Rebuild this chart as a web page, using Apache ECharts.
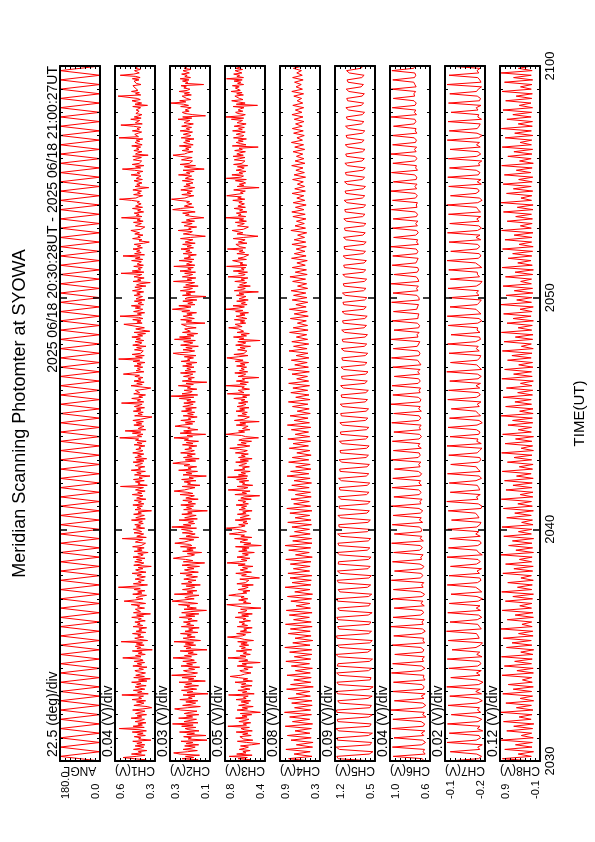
<!DOCTYPE html>
<html><head><meta charset="utf-8">
<script src="https://cdn.jsdelivr.net/npm/echarts@6/dist/echarts.min.js"></script>
<style>html,body{margin:0;padding:0;background:#fff}#c{width:595px;height:842px}</style>
</head><body><div id="c"></div>
<script>
// ---------- texts ----------
const TITLE = 'Meridian Scanning Photomter at SYOWA';
const SUBTITLE = '2025 06/18 20:30:28UT - 2025 06/18 21:00:27UT';
const TIME_TICK_LABELS = ['2030', '2040', '2050', '2100'];
const TIME_AXIS_NAME = 'TIME(UT)';
const CHANNEL_NAMES = ['ANGL', 'CH1(V)', 'CH2(V)', 'CH3(V)', 'CH4(V)', 'CH5(V)', 'CH6(V)', 'CH7(V)', 'CH8(V)'];
const DIV_LABELS = ['22.5 (deg)/div', '0.04 (V)/div', '0.03 (V)/div', '0.05 (V)/div', '0.08 (V)/div', '0.09 (V)/div', '0.04 (V)/div', '0.02 (V)/div', '0.12 (V)/div'];
// value axis ranges (deg for ANGL, V for channels), 8 divisions each
const AXIS_MIN = [0, 0.28, 0.10, 0.40, 0.29, 0.50, 0.64, -0.24, -0.06];
const AXIS_MAX = [180, 0.60, 0.34, 0.80, 0.93, 1.22, 0.96, -0.08, 0.90];
const AXIS_DIVS = 8;
// time: minutes after 20:30
const TIME_MIN = 0, TIME_MAX = 30, TIME_MAJOR = 10;
const ANGL_STEP_SEC = 12;
const CH_FAST_STEP_SEC = 3;   // CH1-CH3 samples
const CH_STEP_SEC = 6;        // CH4-CH8 samples

// ---------- data ----------
const ANGL_deg = [
0,180,0,180,0,180,0,180,0,180,0,180,0,180,0,180,0,180,0,180,
0,180,0,180,0,180,0,180,0,180,0,180,0,180,0,180,0,180,0,180,
0,180,0,180,0,180,0,180,0,180,0,180,0,180,0,180,0,180,0,180,
0,180,0,180,0,180,0,180,0,180,0,180,0,180,0,180,0,180,0,180,
0,180,0,180,0,180,0,180,0,180,0,180,0,180,0,180,0,180,0,180,
0,180,0,180,0,180,0,180,0,180,0,180,0,180,0,180,0,180,0,180,
0,180,0,180,0,180,0,180,0,180,0,180,0,180,0,180,0,180,0,180,
0,180,0,180,0,180,0,180,0,180,0];

const CH1_mV = [
402,351,447,535,431,359,468,389,414,346,452,397,370,439,362,425,384,458,312,411,
393,446,357,420,375,462,349,408,566,366,455,381,417,352,440,391,364,471,386,423,
348,436,401,360,459,377,306,343,449,396,368,428,355,463,388,410,372,545,334,419,
385,453,362,404,439,351,427,392,467,345,412,318,450,365,434,397,356,418,441,373,
409,344,457,387,422,363,446,375,401,538,392,436,358,414,383,461,302,425,395,438,
367,429,380,551,339,405,442,371,418,393,460,354,431,386,409,347,455,378,421,399,
441,358,413,390,466,372,427,316,452,396,381,437,364,420,403,470,355,415,527,444,
376,432,405,348,458,384,419,361,447,398,573,425,340,453,391,412,366,439,400,357,
424,389,463,352,408,435,377,416,310,450,394,369,442,385,428,360,456,397,374,418,
335,446,383,421,367,459,391,404,356,437,412,379,542,350,426,399,371,448,387,410,
453,363,429,396,442,374,410,381,468,358,434,402,365,451,389,416,308,440,393,423,
381,457,369,413,390,445,353,427,400,376,462,385,419,359,436,406,372,556,342,417,
399,437,366,452,382,408,320,444,391,426,357,470,395,414,362,438,404,380,455,368,
429,347,441,389,419,370,458,398,376,433,392,409,361,447,384,424,351,436,411,562,
387,420,376,461,394,519,355,415,401,368,449,386,430,373,457,397,412,304,443,382,
416,374,453,392,428,364,445,407,383,548,370,421,396,466,379,410,356,450,403,389,
437,361,314,399,472,382,426,367,448,393,414,376,441,404,533,459,369,432,398,421,
378,446,391,424,360,455,402,571,381,436,366,463,395,411,374,444,389,427,352,458,
405,385,440,370,431,397,465,379,419,356,447,322,388,434,365,416,408,529,383,425,
392,458,376,412,560,389,421,363,451,404,378,438,396,469,372,415,386,445,361,432,
418,380,447,398,426,371,460,409,387,441,353,428,401,318,456,392,419,367,448,410,
386,552,369,462,395,415,382,450,373,423,406,389,467,378,437,399,536,364,443,391,
427,402,456,381,420,394,446,371,326,408,385,459,398,417,376,442,404,388,473,395,
410,362,437,413,389,452,375,424,398,548,384,429,407,446,371,419,393,460,380,436,
443,391,422,405,468,564,433,412,379,451,397,420,388,457,409,330,439,401,426,384,
399,448,381,430,414,392,471,403,423,377,444,541,395,436,369,462,406,418,387,453,
421,389,458,335,436,417,385,449,408,428,395,466,383,415,440,402,430,378,568,412,
396,442,414,387,461,405,424,393,452,553,382,437,421,403,474,391,446,410,385,433,
448,407,431,419,395,458,340,440,387,427,464,398,422,412,575,394,436,405,468,417,
403,439,424,456,392,430,415,447,408,461,399,433,558,452,406,427,444,397,438,421,
429];

const CH2_mV = [
226,171,268,198,247,163,279,318,235,176,261,214,189,252,168,243,203,274,118,231,
212,258,124,239,193,283,166,227,249,185,270,201,325,172,256,219,181,288,204,241,
167,254,221,178,275,312,233,158,264,213,186,245,173,281,207,229,190,262,112,238,
203,271,180,224,255,169,246,210,286,128,230,197,268,184,330,216,175,237,259,192,
228,162,274,205,240,182,263,194,220,322,211,253,177,232,200,279,118,244,214,257,
186,248,199,316,157,223,261,189,237,212,277,173,250,204,228,165,272,196,240,218,
259,176,232,209,284,191,245,167,270,215,121,256,182,238,221,289,174,234,327,262,
195,251,224,166,314,202,237,179,265,217,192,243,158,271,210,231,184,257,219,175,
242,207,280,170,226,253,196,235,163,268,213,132,260,203,246,320,274,216,193,236,
150,264,201,239,185,277,209,222,311,255,230,197,283,168,244,218,189,266,205,228,
271,181,329,214,260,192,229,199,286,176,252,220,183,269,207,234,116,258,211,241,
199,275,187,231,208,263,171,245,218,194,280,203,237,315,254,224,190,267,160,235,
217,255,184,270,200,226,122,262,209,244,175,288,213,232,180,256,222,323,273,186,
248,165,259,207,237,188,276,216,194,251,210,227,179,265,202,242,169,254,229,316,
205,238,126,279,212,258,173,233,219,310,267,204,248,191,275,215,230,177,261,200,
234,192,271,210,246,182,263,225,201,257,188,239,214,284,197,333,174,268,221,207,
255,179,236,217,290,200,244,119,266,211,232,194,259,222,203,277,187,250,216,239,
196,264,209,242,178,273,220,235,199,254,184,281,321,229,192,262,207,245,170,276,
223,203,258,188,313,215,283,197,237,174,265,218,206,252,183,234,226,271,130,243,
210,276,194,230,261,207,239,181,269,222,326,256,214,287,190,233,204,263,179,250,
236,124,265,216,244,189,278,227,205,259,171,246,219,192,319,210,237,185,266,228,
204,252,187,280,213,233,200,317,191,241,224,207,285,196,255,217,230,182,261,209,
245,220,274,199,238,212,264,189,249,226,203,277,216,128,194,260,222,206,291,213,
228,180,255,231,207,270,193,242,216,137,202,247,225,264,189,237,324,278,198,254,
261,209,240,223,286,331,251,230,197,269,215,238,206,275,227,192,257,219,244,202,
217,266,199,248,232,210,289,221,241,195,262,135,213,254,187,280,224,236,205,271,
239,207,276,322,254,235,203,267,226,246,213,284,201,233,258,220,248,196,273,230,
214,260,232,205,279,223,242,211,270,234,200,255,239,221,292,209,264,127,203,251,
266,225,249,237,213,276,229,258,334,245,282,216,240,230,267,212,254,223,286,235,
221,257,242,274,138,248,233,265,226,279,217,251,237,270,224,245,262,215,256,239,
247];

const CH3_mV = [
608,541,669,577,758,529,683,590,621,548,657,603,566,645,535,452,583,676,522,614,
596,651,538,623,571,688,527,609,640,556,771,585,618,543,661,602,560,694,579,630,
533,647,446,552,679,575,627,518,664,599,563,638,545,690,588,615,568,764,508,625,
581,671,550,606,642,531,634,592,700,526,619,573,666,749,643,604,540,624,652,569,
611,524,678,586,629,448,662,571,600,770,590,649,547,617,584,687,533,636,597,655,
563,641,578,673,515,608,658,775,627,594,684,539,646,583,612,528,677,574,631,605,
659,545,618,593,697,565,633,527,670,602,580,644,441,622,607,782,541,616,588,663,
572,639,609,762,686,582,621,550,667,600,568,631,517,681,596,613,561,652,455,544,
634,587,692,536,610,648,575,624,521,668,598,779,656,580,637,551,680,606,567,626,
507,663,579,628,559,695,437,612,541,650,624,573,704,532,641,605,756,674,586,618,
682,786,645,599,663,570,620,581,698,544,648,609,558,676,589,623,529,660,597,635,
583,689,566,621,594,669,537,642,607,453,701,585,628,549,768,614,571,679,523,626,
602,657,563,684,580,774,574,666,595,640,548,708,601,625,556,661,616,584,693,566,
648,529,665,598,636,567,696,611,577,654,752,619,552,676,588,639,535,662,623,465,
594,633,789,699,604,664,551,625,609,569,687,593,651,458,705,612,629,556,672,586,
628,577,690,603,653,560,680,618,590,665,571,637,601,712,582,624,553,777,610,595,
667,555,631,607,788,586,649,566,686,604,627,462,669,616,593,702,573,655,608,638,
584,684,600,646,564,697,619,634,781,662,570,711,609,626,581,674,599,650,545,693,
620,592,672,449,658,611,715,585,640,557,679,614,596,664,763,629,618,698,593,647,
603,706,582,632,689,600,651,565,694,621,792,668,606,720,579,636,596,683,568,659,
641,590,685,612,660,466,707,625,597,673,547,655,616,583,702,605,639,571,769,627,
598,664,575,717,609,636,592,784,581,650,622,602,724,586,670,613,633,563,681,604,
657,620,776,594,649,631,691,580,667,626,599,718,612,470,584,680,621,601,729,617,
632,566,675,635,607,697,586,658,614,795,593,666,639,686,581,654,623,709,596,671,
685,606,661,628,722,602,673,637,783,700,618,645,597,713,629,459,678,611,656,594,
619,696,587,787,642,615,731,624,659,592,689,634,608,676,573,714,630,648,601,707,
653,600,719,617,682,651,596,703,627,660,468,727,590,644,688,618,667,586,715,633,
611,688,648,598,724,627,664,606,708,641,589,679,652,625,736,613,790,640,597,671,
694,622,669,646,610,719,475,687,599,666,733,620,655,638,701,616,683,629,740,647,
633,697,658,726,614,674,642,709,628,785,615,681,654,713,631,668,699,624,690,650,
662];

const CH4_mV = [
436,792,418,705,447,836,409,668,401,754,431,812,452,690,428,847,409,731,455,776,
427,858,440,697,415,743,419,802,444,672,452,825,398,761,437,709,430,818,445,684,
412,749,458,836,439,701,421,777,423,853,449,726,405,690,433,798,446,764,416,842,
431,713,460,781,417,829,442,672,452,756,425,811,410,694,451,849,437,738,429,770,
420,803,456,716,448,765,434,837,414,682,462,791,439,850,418,727,425,774,447,698,
458,739,427,806,433,688,455,772,419,821,440,711,461,753,431,684,442,798,463,742,
426,705,448,817,469,760,436,679,447,792,470,734,432,661,452,783,475,721,441,805,
455,687,473,748,438,812,459,703,481,769,446,655,463,730,484,796,449,678,466,757,
487,724,458,791,472,663,490,738,461,802,476,694,495,749,468,671,482,786,497,713,
470,741,488,668,503,777,481,719,489,652,509,764,478,703,494,781,512,676,486,735,
499,713,517,752,488,649,504,728,521,771,495,686,507,734,526,660,494,745,513,701,
530,672,509,739,518,703,537,648,503,756,522,690,541,667,515,724,527,741,546,683,
512,719,533,661,549,737,524,694,536,652,557,728,521,705,540,676,562,743,531,689,
548,667,566,721,535,694,553,748,571,659,542,712,558,733,575,681,546,702,562,739,
579,684,551,725,566,656,584,709,553,741,571,673,590,697,560,728,574,662,587,716,
568];

const CH5_mV = [
552,1163,1188,604,538,1142,1197,587,561,1175,1182,619,547,1151,1204,596,570,1168,1179,611,
543,1186,1193,592,566,1139,1171,625,551,1172,1199,603,534,1157,1185,588,572,1144,1190,617,
557,1179,1166,599,545,1160,1201,630,568,1137,1178,594,549,1183,1192,612,563,1149,1174,601,
575,1166,1187,622,552,1141,1169,607,581,1174,1195,615,559,1132,1163,633,578,1158,1181,610,
566,1128,1176,626,587,1162,1157,618,571,1137,1184,639,593,1150,1168,621,579,1119,1172,634,
598,1145,1153,627,584,1124,1166,646,602,1138,1149,631,590,1113,1160,652,607,1131,1142,640,
595,1106,1155,657,612,1127,1136,644,601,1098,1148,661,618,1119,1130,650,606,1092,1141,668,
623,1114,1123,655,611,1085,1133,672,629,1105,1117,660,616,1078,1126,677,634,1098,1110,664,
620,1071,1119,683,639,1091,1103,669,626,1064,1112,688,644,1084,1097,675,631,1057,1106,692,
649,1077,1090,679,636,1050,1099,697,653,1070,1084,684,641,1044,1093,701,658,1063,1077,688,
646,1037,1086,706,662,1056,1071,692,650,1031,1080,710,667,1049,1064,697,655,1025,1073,714,
671,1043,1058,701,659,1018,1067,719,676,1036,1052,705,663,1012,1061,723,680,1030,1045,710,
668,1006,1055,727,684,1023,1039,714,672,1000,1048,731,688,1017,1033,718,676,994,1042,735,
692,1011,1027,722,680,988,1036,739,696,1004,1021,726,684,982,1030,743,700,998,1015,730,
688,976,1024,747,704,992,1009,734,692,970,1018,751,708,986,1003,738,696,964,1012,755,
712];

const CH6_mV = [
688,702,934,679,695,684,941,707,676,699,928,690,708,681,946,694,683,711,937,672,
699,686,951,703,674,697,925,688,710,679,943,696,687,704,932,680,693,689,948,712,
681,707,939,692,702,685,922,700,689,713,945,683,696,691,930,709,678,700,953,694,
705,688,936,715,691,703,927,686,712,697,944,701,684,716,933,695,707,690,949,718,
697,711,924,703,689,720,940,708,714,695,931,722,701,717,947,693,719,706,926,711,
706,723,942,699,725,710,935,717,698,728,950,713,720,704,929,726,711,730,944,708,
729,715,938,722,707,733,925,719,731,712,948,735,718,727,933,710,736,721,941,728,
708,724,929,716,725,711,946,730,714,727,931,709,731,718,952,722,712,734,937,719,
727,715,944,735,718,731,926,723,738,720,939,713,725,740,948,729,720,734,934,742,
731,722,950,736,744,727,928,731,723,742,945,737,735,729,932,746,740,732,947,726,
729,745,936,737,748,733,951,730,736,750,929,742,731,739,943,752,743,735,938,746,
737,751,952,733,747,739,931,754,734,746,946,741,755,736,935,748,740,757,949,744,
750,741,940,756,742,758,955,747,760,744,933,751,746,762,948,740,755,749,937,763,
744,759,953,751,764,747,939,756,749,766,946,745,758,752,932,767,753,761,951,748,
765,754,942,760,750,768,934,763,769,755,950,751,761,770,938,764,754,762,945,771,
758];

const CH7_mV = [
-94,-214,-226,-207,-101,-219,-211,-229,-88,-205,-222,-216,-97,-231,-209,-220,-90,-212,-227,-204,
-105,-223,-210,-218,-92,-208,-229,-213,-99,-226,-203,-221,-87,-215,-232,-209,-103,-220,-206,-225,
-95,-211,-224,-217,-89,-228,-207,-219,-108,-204,-221,-230,-93,-217,-212,-206,-86,-225,-218,-211,
-100,-209,-227,-214,-91,-222,-205,-220,-97,-213,-230,-208,-104,-227,-216,-203,-89,-210,-224,-219,
-96,-218,-208,-226,-102,-206,-221,-212,-88,-229,-214,-207,-94,-211,-225,-218,-99,-221,-203,-215,
-91,-207,-219,-224,-106,-216,-210,-202,-93,-224,-228,-213,-87,-212,-206,-221,-101,-219,-215,-209,
-97,-204,-226,-217,-90,-221,-211,-205,-103,-214,-223,-219,-95,-209,-218,-228,-88,-225,-207,-212,
-100,-215,-220,-206,-92,-208,-229,-216,-98,-222,-213,-203,-105,-217,-209,-224,-91,-206,-221,-214,
-94,-219,-204,-222,-99,-212,-225,-210,-87,-226,-216,-207,-102,-210,-219,-223,-96,-217,-205,-213,
-90,-203,-222,-218,-104,-220,-208,-211,-93,-211,-227,-216,-89,-224,-213,-204,-100,-209,-218,-225,
-97,-216,-206,-214,-92,-205,-221,-228,-101,-218,-210,-209,-95,-227,-215,-202,-88,-213,-224,-217,
-103,-208,-219,-211,-96,-223,-204,-220,-90,-210,-226,-215,-99,-216,-207,-223,-94,-222,-212,-206,
-87,-211,-228,-219,-102,-204,-217,-210,-95,-225,-209,-224,-91,-213,-220,-205,-98,-219,-214,-227,
-93,-207,-223,-212,-100,-221,-206,-218,-89,-214,-229,-208,-97,-209,-216,-221,-92,-226,-211,-215,
-104,-212,-205,-224,-94,-218,-222,-209,-99,-206,-213,-226,-88,-224,-219,-211,-96,-215,-208,-220,
-91];

const CH8_mV = [
112,842,148,463,95,786,131,529,124,871,102,388,140,738,117,571,88,815,153,442,
131,877,109,506,146,759,93,417,118,834,139,583,101,702,126,361,137,851,98,494,
104,796,144,548,127,864,111,402,92,745,135,611,149,823,106,455,115,880,128,373,
139,727,99,537,108,848,143,426,133,771,119,592,97,859,138,481,125,714,102,398,
146,832,116,567,103,766,141,434,129,875,97,519,118,693,134,602,94,809,147,457,
136,853,107,381,121,739,150,546,99,818,124,472,145,868,112,415,110,757,131,589,
127,791,103,503,152,846,119,438,106,722,141,564,133,861,98,392,117,778,136,527,
96,837,148,461,141,709,114,598,123,872,105,429,108,764,144,542,150,827,121,476,
113,746,135,409,100,855,127,573,144,788,109,451,119,719,152,614,131,843,103,387,
148,802,117,532,107,866,139,465,125,731,98,586,154,814,130,420,102,877,145,499,
134,754,111,557,120,826,147,404,143,769,115,538,99,851,126,474,155,705,137,596,
118,839,104,443,141,781,132,561,109,862,149,412,128,728,121,523,145,817,108,485,
106,872,143,397,136,743,115,579,151,825,128,452,113,796,157,508,129,859,101,431,
152,712,134,566,117,848,146,419,138,776,110,547,147,867,125,463,121,735,153,592,
140,829,119,437,156,764,137,512,124,851,149,408,133,792,116,574,150,873,128,459,
135];

// ---------- build ----------
const FONT = '"Liberation Sans", Arial, Helvetica, sans-serif';
const GRID_LEFT0 = 60, GRID_STEP = 55, GRID_W = 40, GRID_TOP = 66, GRID_H = 695;
const PANELS = [
  {vals: ANGL_deg, scale: 1, step: ANGL_STEP_SEC},
  {vals: CH1_mV, scale: 0.001, step: CH_FAST_STEP_SEC},
  {vals: CH2_mV, scale: 0.001, step: CH_FAST_STEP_SEC},
  {vals: CH3_mV, scale: 0.001, step: CH_FAST_STEP_SEC},
  {vals: CH4_mV, scale: 0.001, step: CH_STEP_SEC},
  {vals: CH5_mV, scale: 0.001, step: CH_STEP_SEC},
  {vals: CH6_mV, scale: 0.001, step: CH_STEP_SEC},
  {vals: CH7_mV, scale: 0.001, step: CH_STEP_SEC},
  {vals: CH8_mV, scale: 0.001, step: CH_STEP_SEC}
];
const N = PANELS.length;
const grid = [], xAxis = [], yAxis = [], series = [], graphic = [];
const axisLine = {show: true, onZero: false, lineStyle: {color: '#000', width: 2}};

for (let k = 0; k < N; k++) {
  const left = GRID_LEFT0 + k * GRID_STEP;
  grid.push({left: left, top: GRID_TOP, width: GRID_W, height: GRID_H, show: false, containLabel: false});
  const mn = AXIS_MIN[k], mx = AXIS_MAX[k], mid = (mn + mx) / 2;
  const ticks = [];
  for (let d = 0; d <= AXIS_DIVS; d++) ticks.push(mn + (mx - mn) * d / AXIS_DIVS);
  const base = {gridIndex: k, type: 'value', inverse: true, min: mn, max: mx, z: 5,
    axisLine: axisLine, splitLine: {show: false}};
  xAxis.push(Object.assign({}, base, {
    position: 'bottom',
    axisTick: {show: true, inside: true, length: 3, customValues: ticks, lineStyle: {color: '#000', width: 1}},
    axisLabel: {show: true, rotate: 90, align: 'left', margin: 38, customValues: [mn, mx],
      color: '#000', fontSize: 11, fontFamily: FONT,
      formatter: function (v) { const t = (+v).toFixed(1); return v > mid ? '{mx|' + t + '}' : '{mn|' + t + '}'; },
      rich: {mx: {padding: [12, 0, 0, 0], fontSize: 11, fontFamily: FONT, color: '#000'},
             mn: {padding: [0, 0, 9, 0], fontSize: 11, fontFamily: FONT, color: '#000'}}},
    name: CHANNEL_NAMES[k], nameLocation: 'middle', nameRotate: 180, nameGap: 3, nameMoveOverlap: false,
    nameTextStyle: {color: '#000', fontSize: 12, fontFamily: FONT}
  }));
  xAxis.push(Object.assign({}, base, {
    position: 'top',
    axisTick: {show: true, inside: true, length: 3, customValues: ticks, lineStyle: {color: '#000', width: 1}},
    axisLabel: {show: false}
  }));
  const ybase = {gridIndex: k, type: 'value', min: TIME_MIN, max: TIME_MAX, interval: TIME_MAJOR, z: 5,
    axisLine: axisLine, splitLine: {show: false}, minorSplitLine: {show: false},
    axisTick: {show: true, inside: true, length: 7, lineStyle: {color: '#000', width: 1.5}},
    minorTick: {show: true, splitNumber: 10, length: 3, lineStyle: {color: '#000', width: 1}}};
  yAxis.push(Object.assign({}, ybase, {position: 'left', axisLabel: {show: false}}));
  const last = k === N - 1;
  yAxis.push(Object.assign({}, ybase, {position: 'right',
    axisLabel: last ? {show: true, rotate: 90, margin: 4, color: '#000', fontSize: 13, fontFamily: FONT,
      formatter: function (v) { return TIME_TICK_LABELS[Math.round(v / TIME_MAJOR)]; }} : {show: false},
    name: last ? TIME_AXIS_NAME : '', nameLocation: 'middle', nameRotate: 90, nameGap: 32, nameMoveOverlap: false,
    nameTextStyle: {color: '#000', fontSize: 15, fontFamily: FONT}
  }));
  const p = PANELS[k];
  series.push({
    type: 'line', xAxisIndex: 2 * k, yAxisIndex: 2 * k, symbol: 'none', showSymbol: false,
    animation: false, z: 2, clip: true,
    lineStyle: {color: '#ff0000', width: 1},
    data: p.vals.map(function (v, i) { return [v * p.scale, i * p.step / 60]; })
  });
  graphic.push({type: 'text', x: left - 7, y: GRID_TOP + GRID_H - 4, rotation: Math.PI / 2,
    style: {text: DIV_LABELS[k], fill: '#000', fontSize: 14, fontFamily: FONT,
      align: 'left', verticalAlign: 'middle', textAlign: 'left', textVerticalAlign: 'middle'}});
}
graphic.push({type: 'text', x: 20, y: GRID_TOP + GRID_H / 2, rotation: Math.PI / 2,
  style: {text: TITLE, fill: '#000', fontSize: 18, fontFamily: FONT,
    align: 'center', verticalAlign: 'middle', textAlign: 'center', textVerticalAlign: 'middle'}});
graphic.push({type: 'text', x: GRID_LEFT0 - 7, y: GRID_TOP, rotation: Math.PI / 2,
  style: {text: SUBTITLE, fill: '#000', fontSize: 14, fontFamily: FONT,
    align: 'right', verticalAlign: 'middle', textAlign: 'right', textVerticalAlign: 'middle'}});

const chart = echarts.init(document.getElementById('c'), null, {renderer: 'canvas'});
chart.setOption({
  backgroundColor: '#fff', animation: false,
  grid: grid, xAxis: xAxis, yAxis: yAxis, series: series, graphic: graphic
});
</script></body></html>
